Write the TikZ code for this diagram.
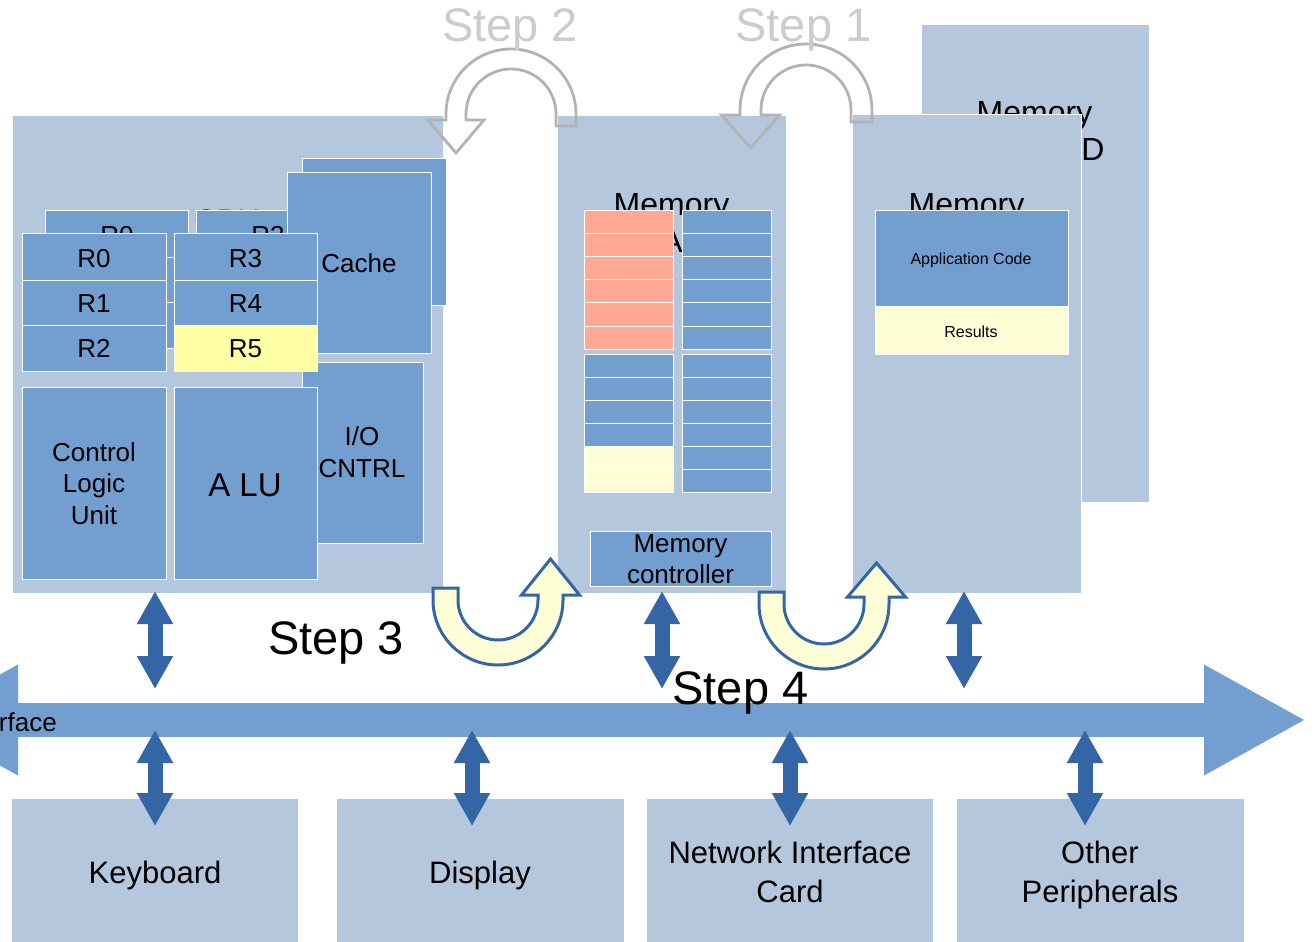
\documentclass[tikz,border=0pt]{standalone}
\usepackage{fontspec}
\setmainfont{Liberation Sans}
\usetikzlibrary{arrows.meta,calc}
\definecolor{lbox}{HTML}{B4C7DC}
\definecolor{mblue}{HTML}{729FCF}
\definecolor{dblue}{HTML}{3465A4}
\definecolor{ylw}{HTML}{FFFFA6}
\definecolor{pale}{HTML}{FFFFD7}
\definecolor{salmon}{HTML}{FFA894}
\definecolor{garrow}{HTML}{B3B3B3}
\definecolor{gtext}{HTML}{CCCCCC}
\newcommand\fs[1]{\fontsize{#1}{#1}\selectfont}

\begin{document}
\begin{tikzpicture}[x=1pt,y=-1pt,
  blk/.style={draw=white, line width=0.8pt, inner sep=0pt, outer sep=0pt, anchor=north west},
  panel/.style={blk, fill=lbox},
  cell/.style={blk, fill=mblue},
  periph/.style={inner sep=0pt, outer sep=0pt, anchor=north west, fill=lbox, minimum width=286, minimum height=150},
  txt/.style={anchor=base, inner sep=0pt, text=black},
  dbl/.style={draw=dblue, line width=15pt,
    {Triangle[length=33pt,width=34pt]}-{Triangle[length=33pt,width=34pt]}},
  busarrow/.style={draw=mblue, line width=34pt,
    {Triangle[length=102pt,width=103pt]}-{Triangle[length=102pt,width=103pt]}},
  greyturn/.style={draw=garrow, line width=2.8pt, line join=miter},
  yellowturn/.style={draw=dblue, fill=pale, line width=3pt, line join=miter}
]
\path[use as bounding box] (0,0) rectangle (1314,942);
\clip (0,0) rectangle (1314,942);
\fill[white] (0,0) rectangle (1314,942);

% ---------- peripherals ----------
\node[periph] (kbd) at (12,799) {};
\node[periph, minimum width=287] (disp) at (337,799) {};
\node[periph] (nic) at (647,799) {};
\node[periph, minimum width=287] (oth) at (957,799) {};
\node[txt, font=\fs{31}] (kbdt) at (155,883) {Keyboard};
\node[txt, font=\fs{31}] (dispt) at (480,883) {Display};
\node[txt, font=\fs{31}] (nict1) at (790,863) {Network Interface};
\node[txt, font=\fs{31}] (nict2) at (790,902) {Card};
\node[txt, font=\fs{31}] (otht1) at (1100,863) {Other};
\node[txt, font=\fs{31}] (otht2) at (1100,902) {Peripherals};

% ---------- system bus ----------
\coordinate (busL) at (-84,720);
\coordinate (busR) at (1306,720);
\coordinate (bustop) at (0,703);
\coordinate (busbot) at (0,737);
\draw[busarrow] (busL) -- (busR);
\node[txt, anchor=base east, font=\fs{26}] (bust) at (57,731) {rface};

% ---------- back memory module ----------
\node[panel, minimum width=228, minimum height=478] (memd) at (921,24) {};
\node[txt, font=\fs{32}] (memdt1) at (1034.5,123) {Memory};
\node[txt, font=\fs{32}] (memdt2) at (1093,160) {D};

% ---------- front right memory ----------
\node[panel, minimum width=229, minimum height=479] (memr) at (852,114) {};
\node[txt, font=\fs{32}] (memrt) at (966.5,215) {Memory};
\node[cell, minimum width=193, minimum height=96] (app) at (875,210) {};
\node[blk, fill=pale, minimum width=193, minimum height=47] (res) at (875,307) {};
\node[txt, font=\fs{16}] (appt) at (971,264) {Application Code};
\node[txt, font=\fs{16}] (rest) at (971,337) {Results};

% ---------- centre memory ----------
\node[panel, minimum width=229, minimum height=478] (mem) at (557,115) {};
\node[txt, font=\fs{32}] (memt1) at (671.5,215) {Memory};
\node[txt, font=\fs{32}] (memt2) at (672,252) {A};
\foreach \i in {0,...,5}{
  \node[blk, fill=salmon, minimum width=89, minimum height=23.2] (mla\i) at (584,{210+23.2*\i}) {};
  \node[cell, minimum width=89, minimum height=23.2] (mra\i) at (682,{210+23.2*\i}) {};
  \node[cell, minimum width=89, minimum height=23] (mrb\i) at (682,{354+23*\i}) {};
}
\foreach \i in {0,...,3}
  \node[cell, minimum width=89, minimum height=23] (mlb\i) at (584,{354+23*\i}) {};
\foreach \i in {4,5}
  \node[blk, fill=pale, minimum width=89, minimum height=23] (mlb\i) at (584,{354+23*\i}) {};
\node[cell, minimum width=181, minimum height=55] (mctl) at (590,531) {};
\node[txt, font=\fs{26}] (mctlt1) at (680.5,552) {Memory};
\node[txt, font=\fs{26}] (mctlt2) at (680.5,583) {controller};

% ---------- CPU ----------
\node[panel, minimum width=431, minimum height=478] (cpu) at (12,115) {};
\node[txt, font=\fs{31}] (cput) at (227,231) {CPU};
% registers of the rear layer
\foreach \y/\h [count=\k] in {210/47,257/45,302/46}{
  \node[cell, minimum width=143, minimum height=\h] (bl\k) at (45,\y) {};
  \node[cell, minimum width=144, minimum height=\h] (br\k) at (196,\y) {};
}
\node[txt, font=\fs{26}] (blt) at (117,244) {R0};
\node[txt, font=\fs{26}] (brt) at (268,244) {R3};
\node[cell, minimum width=144, minimum height=147] (cacheb) at (302,158) {};
\node[cell, minimum width=121, minimum height=181] (io) at (302,362) {};
\node[txt, font=\fs{26}] (iot1) at (362,445) {I/O};
\node[txt, font=\fs{26}] (iot2) at (362,477) {CNTRL};
\node[cell, minimum width=144, minimum height=181] (cache) at (287,172) {};
\node[txt, font=\fs{26}] (cachet) at (359,272) {Cache};
% registers of the front layer
\node[cell, minimum width=144, minimum height=47] (r0) at (22,233) {};
\node[cell, minimum width=144, minimum height=45] (r1) at (22,280) {};
\node[cell, minimum width=144, minimum height=46] (r2) at (22,325) {};
\node[cell, minimum width=143, minimum height=47] (r3) at (174,233) {};
\node[cell, minimum width=143, minimum height=45] (r4) at (174,280) {};
\node[blk, fill=ylw, minimum width=143, minimum height=46] (r5) at (174,325) {};
\node[txt, font=\fs{26}] (r0t) at (94,267) {R0};
\node[txt, font=\fs{26}] (r1t) at (94,312) {R1};
\node[txt, font=\fs{26}] (r2t) at (94,357) {R2};
\node[txt, font=\fs{26}] (r3t) at (245.5,267) {R3};
\node[txt, font=\fs{26}] (r4t) at (245.5,312) {R4};
\node[txt, font=\fs{26}] (r5t) at (245.5,357) {R5};
\node[cell, minimum width=144, minimum height=192] (clu) at (22,387) {};
\node[cell, minimum width=143, minimum height=192] (alu) at (174,387) {};
\node[txt, font=\fs{26}] (clut1) at (94,461) {Control};
\node[txt, font=\fs{26}] (clut2) at (94,492.5) {Logic};
\node[txt, font=\fs{26}] (clut3) at (94,524) {Unit};
\node[txt, font=\fs{33}] (alut) at (245,496) {A LU};

% ---------- bus connections ----------
\coordinate (xm) at (662,0);
\coordinate (xr) at (964,0);
\coordinate (xd) at (472,0);
\coordinate (xo) at (1085,0);
\draw[dbl, shorten <=-2pt, shorten >=14pt] (cpu.south -| kbd.north) -- (bustop -| kbd.north);
\draw[dbl, shorten <=-2pt, shorten >=14pt] (mem.south -| xm) -- (bustop -| xm);
\draw[dbl, shorten <=-2pt, shorten >=14pt] (memr.south -| xr) -- (bustop -| xr);
\draw[dbl, shorten <=-7pt, shorten >=-27pt] (busbot -| kbd.north) -- (kbd.north);
\draw[dbl, shorten <=-7pt, shorten >=-27pt] (busbot -| xd) -- (disp.north -| xd);
\draw[dbl, shorten <=-7pt, shorten >=-27pt] (busbot -| nic.north) -- (nic.north);
\draw[dbl, shorten <=-7pt, shorten >=-27pt] (busbot -| xo) -- (oth.north -| xo);

% ---------- step arrows ----------
\draw[greyturn] (576,126) -- (576,114) arc[start angle=0,end angle=-180,radius=65]
  -- (446,120) -- (428,120) -- (456,153) -- (484,120) -- (466,120) -- (466,114)
  arc[start angle=-180,end angle=0,radius=45] -- (556,126) -- cycle;
\draw[greyturn] (872,122) -- (872,110) arc[start angle=0,end angle=-180,radius=66]
  -- (740,115) -- (721.5,115) -- (750.5,148) -- (779.5,115) -- (761,115) -- (761,110)
  arc[start angle=-180,end angle=0,radius=45] -- (851,122) -- cycle;
\draw[yellowturn] (433,588) -- (433,600) arc[start angle=180,end angle=0,radius=65]
  -- (563,595) -- (579.5,595) -- (550.5,559) -- (521.5,595) -- (538,595) -- (538,600)
  arc[start angle=0,end angle=180,radius=40] -- (458,588) -- cycle;
\draw[yellowturn] (759,592) -- (759,604) arc[start angle=180,end angle=0,radius=65]
  -- (889,597) -- (905.5,597) -- (876.5,563) -- (847.5,597) -- (864,597) -- (864,604)
  arc[start angle=0,end angle=180,radius=40] -- (784,592) -- cycle;

\node[txt, font=\fs{47}, text=gtext] (s2) at (510,42) {Step 2};
\node[txt, font=\fs{47}, text=gtext] (s1) at (803.5,42) {Step 1};
\node[txt, font=\fs{47}] (s3) at (336,654) {Step 3};
\node[txt, font=\fs{47}] (s4) at (740.5,704) {Step 4};
\end{tikzpicture}
\end{document}
